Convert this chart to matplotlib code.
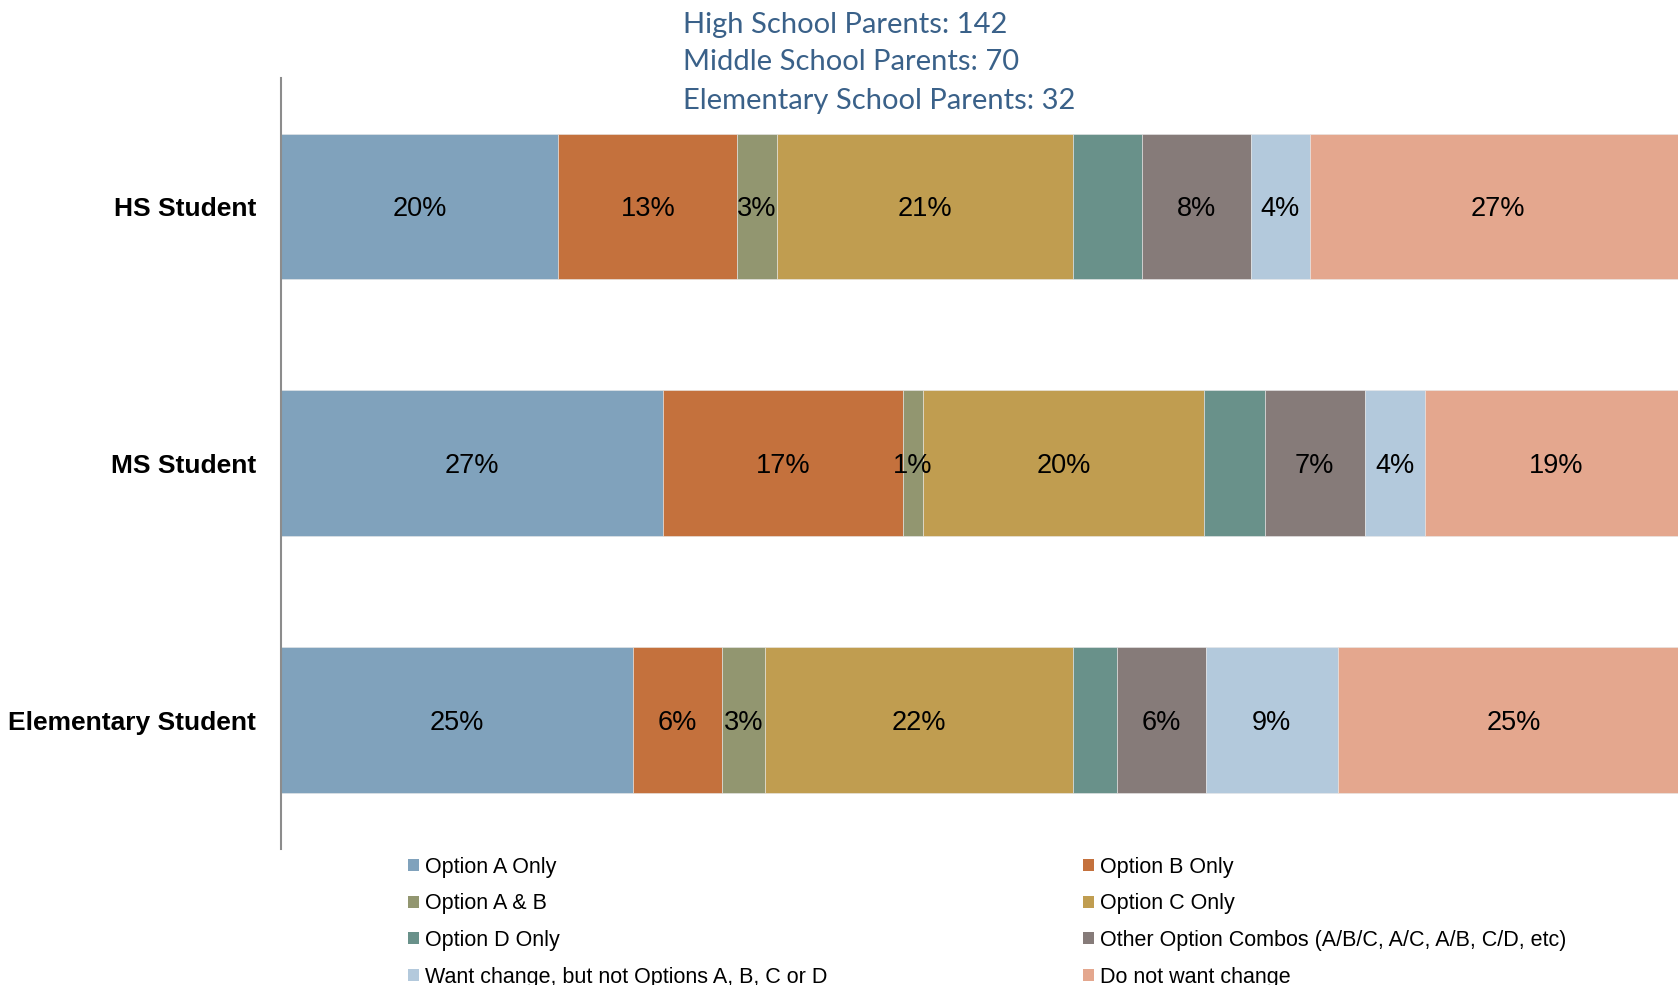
import matplotlib
matplotlib.use("Agg")
import matplotlib.pyplot as plt
from matplotlib.patches import Patch

# ---- data ----
categories = ["HS Student", "MS Student", "Elementary Student"]
series_names = [
    "Option A Only",
    "Option B Only",
    "Option A & B",
    "Option C Only",
    "Option D Only",
    "Other Option Combos (A/B/C, A/C, A/B, C/D, etc)",
    "Want change, but not Options A, B, C or D",
    "Do not want change",
]
hs_values = [19.7, 12.7, 2.8, 21.1, 4.9, 7.7, 4.2, 26.8]
ms_values = [27.1, 17.1, 1.4, 20.0, 4.3, 7.1, 4.3, 18.6]
es_values = [25.0, 6.3, 3.1, 21.9, 3.1, 6.3, 9.4, 25.0]
title_lines = [
    "High School Parents: 142",
    "Middle School Parents: 70",
    "Elementary School Parents: 32",
]
show_label = [True, True, True, True, False, True, True, True]

colors = ["#80A2BC", "#C4713D", "#929670", "#C09D50",
          "#69918A", "#867B79", "#B3C9DC", "#E4A78E"]

rows = [hs_values, ms_values, es_values]

W, H = 1678, 985
fig = plt.figure(figsize=(W / 100, H / 100), dpi=100)
ax = fig.add_axes([281.3 / W, 1 - 848.7 / H, 1407 / W, (848.7 - 78.05) / H])

for r, vals in enumerate(rows):
    left = 0.0
    for s, v in enumerate(vals):
        ax.barh(r, v, left=left, height=0.568, color=colors[s],
                edgecolor="#E8E8E8", linewidth=0.4)
        if show_label[s]:
            ax.text(left + v / 2, r, f"{round(v)}%", ha="center",
                    va="center_baseline",
                    fontsize=19.5, family="Liberation Sans", color="black")
        left += v

ax.set_xlim(0, 100)
ax.set_ylim(2.5, -0.5)
ax.set_yticks(range(len(categories)))
ax.set_yticklabels(categories, fontsize=19, fontweight="bold",
                   family="Liberation Sans")
ax.tick_params(axis="y", length=0, pad=18)
ax.set_xticks([])
for sp in ["top", "right", "bottom"]:
    ax.spines[sp].set_visible(False)
ax.spines["left"].set_color("#8C8C8C")
ax.spines["left"].set_linewidth(1.5)

# title
for i, line in enumerate(title_lines):
    fig.text(683 / W, 1 - (24.5 + 38 * i) / H, line, ha="left", va="center",
             fontsize=21, family="Lato", color="#3A6189")

# legend in two columns, row-major order
handles = [Patch(facecolor=c, edgecolor="none") for c in colors]
col1 = [0, 2, 4, 6]
col2 = [1, 3, 5, 7]
leg_kw = dict(loc="upper left", frameon=False,
              prop={"family": "Liberation Sans", "size": 15.5},
              handlelength=0.5, handleheight=0.5, handletextpad=0.3,
              labelspacing=0.72, borderpad=0, borderaxespad=0)
l1 = fig.legend([handles[i] for i in col1], [series_names[i] for i in col1],
                bbox_to_anchor=(408 / W, 1 - 857 / H), **leg_kw)
l2 = fig.legend([handles[i] for i in col2], [series_names[i] for i in col2],
                bbox_to_anchor=(1083 / W, 1 - 857 / H), **leg_kw)

fig.savefig("out.png", dpi=100)
